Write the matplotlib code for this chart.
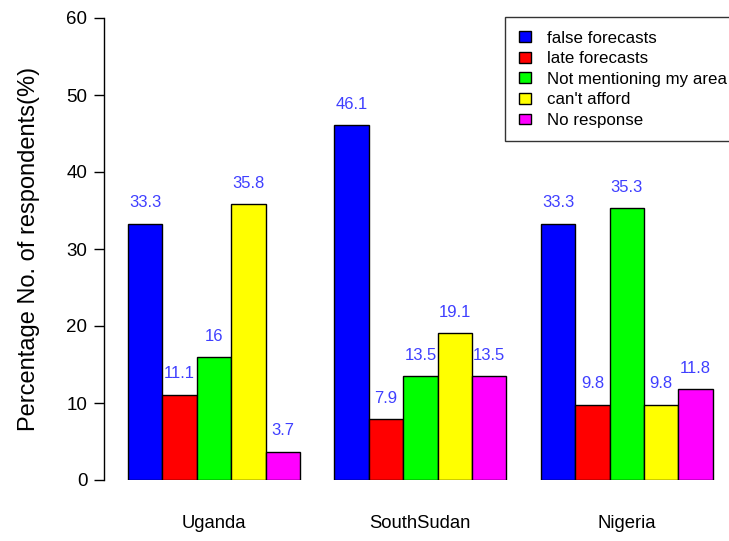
import numpy as np
import matplotlib.pyplot as plt
from matplotlib.patches import Patch

plt.rcParams['font.family'] = ['Liberation Sans', 'DejaVu Sans']

countries = ['Uganda', 'SouthSudan', 'Nigeria']
reasons = ['false forecasts', 'late forecasts', 'Not mentioning my area', "can't afford", 'No response']
colors = ['#0000ff', '#ff0000', '#00ff00', '#ffff00', '#ff00ff']

false_forecasts = [33.3, 46.1, 33.3]
late_forecasts = [11.1, 7.9, 9.8]
not_mentioning = [16, 13.5, 35.3]
cant_afford = [35.8, 19.1, 9.8]
no_response = [3.7, 13.5, 11.8]
series = [false_forecasts, late_forecasts, not_mentioning, cant_afford, no_response]

fig = plt.figure(figsize=(7.29, 5.41), dpi=100)
W, H = 729, 541
ax = fig.add_axes([104 / W, (H - 480) / H, (720 - 104) / W, (480 - 18) / H])

# R style beside barplot: bar width 1, one bar gap between groups
for j, vals in enumerate(series):
    for i, v in enumerate(vals):
        x = 1 + 6 * i + j
        ax.bar(x, v, width=1, align='edge', color=colors[j], edgecolor='black', linewidth=1)
        ax.text(x + 0.5, v + 2.7, '%g' % v, ha='center', va='center',
                color='#3f3fff', fontsize=12)

for i, c in enumerate(countries):
    ax.text(3.5 + 6 * i, -5.7, c, ha='center', va='center', fontsize=13.3)

ax.set_xlim(1 - 24 / 34.4, 1 + 592 / 34.4)
ax.set_ylim(0, 60)
ax.set_yticks(range(0, 61, 10))
ax.tick_params(axis='y', labelsize=13.5, length=7, width=1, pad=5)
ax.set_xticks([])
for s in ['top', 'right', 'bottom']:
    ax.spines[s].set_visible(False)
ax.spines['left'].set_linewidth(1)
ax.set_ylabel('Percentage No. of respondents(%)', fontsize=17)
ax.yaxis.set_label_coords(-(104 - 40) / (720 - 104), 0.5)

handles = [Patch(facecolor=c, edgecolor='black', linewidth=1) for c in colors]
leg = fig.legend(handles, reasons, loc='upper left', bbox_to_anchor=(505 / W, 1 - 17 / H),
                 frameon=True, fancybox=False, edgecolor='black', fontsize=12.2,
                 handlelength=0.75, handleheight=0.6, handletextpad=0.9,
                 labelspacing=0.33, borderpad=0.8, borderaxespad=0)
leg.get_frame().set_linewidth(1)

fig.savefig('out.png', dpi=100)
